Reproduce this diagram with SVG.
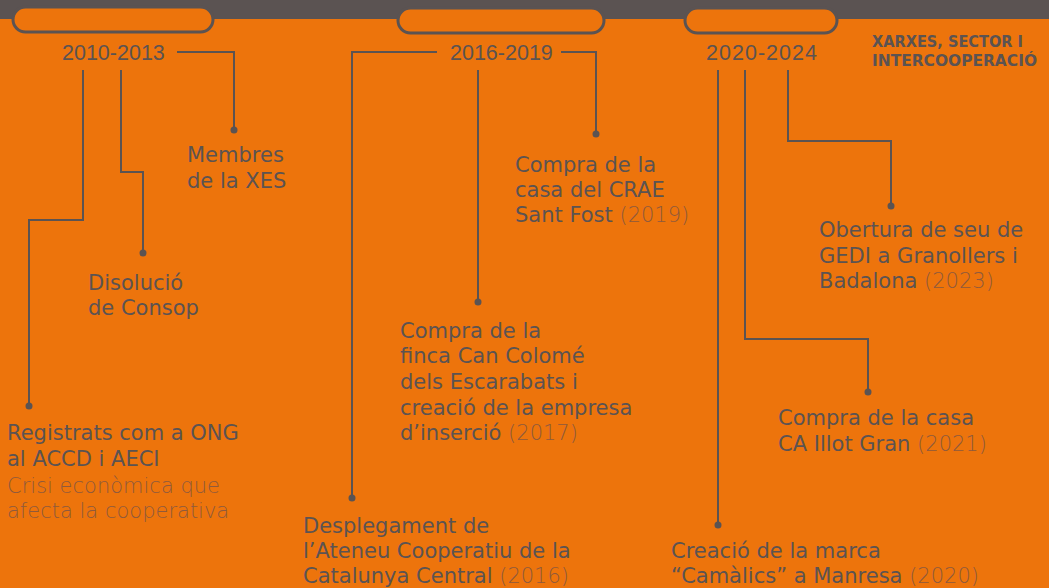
<svg xmlns="http://www.w3.org/2000/svg" width="1049" height="588" viewBox="0 0 1049 588">
<style>
.t{font-family:"DejaVu Sans","Liberation Sans",sans-serif;font-size:21px;fill:#5b5352}
.y{font-family:"Liberation Sans","DejaVu Sans",sans-serif;font-size:21.5px;fill:#5b5352}
.lt{font-weight:200;fill:#8f5a3c}
.hd{font-family:"DejaVu Sans","Liberation Sans",sans-serif;font-size:15px;font-weight:bold;fill:#5b5352}
.c{fill:none;stroke:#5b5352;stroke-width:2}
.d{fill:#5b5352}
.pill{fill:#ed740c;stroke:#5b5352;stroke-width:3}
</style>
<rect x="0" y="0" width="1049" height="588" fill="#ed740c"/>
<rect x="0" y="0" width="1049" height="19" fill="#5b5352"/>
<g id="tabs">
<rect class="pill" x="13" y="7" width="200" height="25" rx="12.5"/>
<rect class="pill" x="398" y="8" width="206" height="25" rx="12.5"/>
<rect class="pill" x="685" y="8" width="152" height="25" rx="12.5"/>
</g>
<g id="heading"><text class="hd" x="872" y="47" textLength="151" lengthAdjust="spacingAndGlyphs">XARXES, SECTOR I</text><text class="hd" x="872" y="66" textLength="165" lengthAdjust="spacingAndGlyphs">INTERCOOPERACIÓ</text></g>
<g id="p2010"><text class="y" x="62" y="60">2010-2013</text></g>
<g id="p2016"><text class="y" x="450" y="60">2016-2019</text></g>
<g id="p2020"><text class="y" x="706" y="60" textLength="111" lengthAdjust="spacing">2020-2024</text></g>
<g id="connectors">
<path class="c" d="M177 52H234V130"/><circle class="d" cx="234" cy="130" r="3.5"/>
<path class="c" d="M83 70V220H29V406"/><circle class="d" cx="29" cy="406" r="3.5"/>
<path class="c" d="M121 70V172H143V253"/><circle class="d" cx="143" cy="253" r="3.5"/>
<path class="c" d="M437 52H352V498"/><circle class="d" cx="352" cy="498" r="3.5"/>
<path class="c" d="M478 70V302"/><circle class="d" cx="478" cy="302" r="3.5"/>
<path class="c" d="M561 52H596V134"/><circle class="d" cx="596" cy="134" r="3.5"/>
<path class="c" d="M718 70V525"/><circle class="d" cx="718" cy="525" r="3.5"/>
<path class="c" d="M745 70V339H868V392"/><circle class="d" cx="868" cy="392" r="3.5"/>
<path class="c" d="M788 70V141H891V206"/><circle class="d" cx="891" cy="206" r="3.5"/>
</g>
<g id="xes"><text class="t" x="187" y="162">Membres</text><text class="t" x="187" y="188">de la XES</text></g>
<g id="consop"><text class="t" x="88" y="290">Disolució</text><text class="t" x="88" y="315">de Consop</text></g>
<g id="ong"><text class="t" x="7" y="440">Registrats com a ONG</text><text class="t" x="7" y="466">al ACCD i AECI</text><text class="t lt" x="7" y="493">Crisi econòmica que</text><text class="t lt" x="7" y="518">afecta la cooperativa</text></g>
<g id="crae"><text class="t" x="515" y="172">Compra de la</text><text class="t" x="515" y="197">casa del CRAE</text><text class="t" x="515" y="222">Sant Fost <tspan class="lt">(2019)</tspan></text></g>
<g id="colome"><text class="t" x="400" y="338">Compra de la</text><text class="t" x="400" y="363">finca Can Colomé</text><text class="t" x="400" y="389">dels Escarabats i</text><text class="t" x="400" y="415">creació de la empresa</text><text class="t" x="400" y="440">d’inserció <tspan class="lt">(2017)</tspan></text></g>
<g id="ateneu"><text class="t" x="303" y="533">Desplegament de</text><text class="t" x="303" y="558">l’Ateneu Cooperatiu de la</text><text class="t" x="303" y="583">Catalunya Central <tspan class="lt">(2016)</tspan></text></g>
<g id="gedi"><text class="t" x="819" y="237">Obertura de seu de</text><text class="t" x="819" y="263">GEDI a Granollers i</text><text class="t" x="819" y="288">Badalona <tspan class="lt">(2023)</tspan></text></g>
<g id="illot"><text class="t" x="778" y="425">Compra de la casa</text><text class="t" x="778" y="451">CA Illot Gran <tspan class="lt">(2021)</tspan></text></g>
<g id="camalics"><text class="t" x="671" y="558">Creació de la marca</text><text class="t" x="671" y="583">“Camàlics” a Manresa <tspan class="lt">(2020)</tspan></text></g>
</svg>
